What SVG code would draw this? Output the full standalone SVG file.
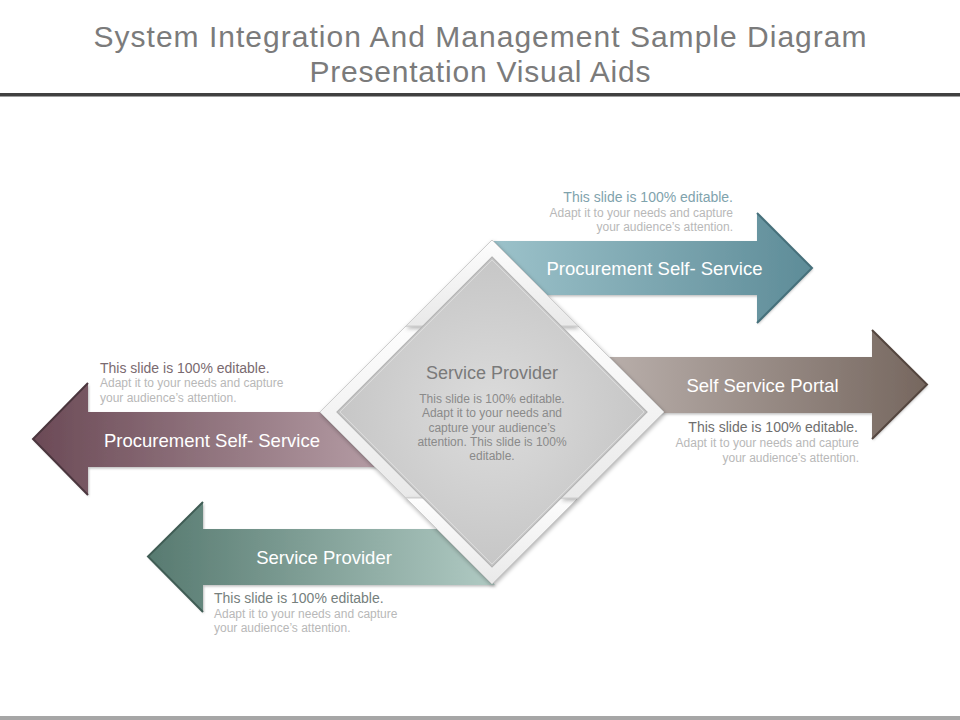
<svg xmlns="http://www.w3.org/2000/svg" width="960" height="720" viewBox="0 0 960 720">
  <defs>
    <linearGradient id="gTeal" x1="0" y1="0" x2="1" y2="0">
      <stop offset="0" stop-color="#9cc2ca"/>
      <stop offset="1" stop-color="#5e8c98"/>
    </linearGradient>
    <linearGradient id="gBrown" x1="0" y1="0" x2="1" y2="0">
      <stop offset="0" stop-color="#b9afab"/>
      <stop offset="1" stop-color="#76675f"/>
    </linearGradient>
    <linearGradient id="gMauve" x1="0" y1="0" x2="1" y2="0">
      <stop offset="0" stop-color="#6b4a56"/>
      <stop offset="1" stop-color="#bba3ab"/>
    </linearGradient>
    <linearGradient id="gGreen" x1="0" y1="0" x2="1" y2="0">
      <stop offset="0" stop-color="#577a70"/>
      <stop offset="1" stop-color="#b0cac3"/>
    </linearGradient>
    <linearGradient id="gFrame" x1="0" y1="0" x2="0" y2="1">
      <stop offset="0" stop-color="#fdfdfd"/>
      <stop offset="1" stop-color="#e9e9e9"/>
    </linearGradient>
    <radialGradient id="gCore" cx="0.5" cy="0.5" r="0.6">
      <stop offset="0" stop-color="#dcdcdc"/>
      <stop offset="1" stop-color="#c2c2c2"/>
    </radialGradient>
    <filter id="shadow" x="-20%" y="-20%" width="140%" height="140%">
      <feDropShadow dx="1" dy="2" stdDeviation="2" flood-color="#000" flood-opacity="0.3"/>
    </filter>
    <filter id="ashadow" x="-10%" y="-20%" width="120%" height="140%">
      <feDropShadow dx="1" dy="1.5" stdDeviation="1.2" flood-color="#000" flood-opacity="0.25"/>
    </filter>
  </defs>
  <style>
    .title { font-family: "Liberation Sans", Arial, sans-serif; font-size: 30px; fill: #7b7b7b; text-anchor: middle; }
    .lbl { font-family: "Liberation Sans", Arial, sans-serif; font-size: 18.5px; fill: #ffffff; text-anchor: middle; }
    .d1 { font-family: "Liberation Sans", Arial, sans-serif; font-size: 14px; }
    .d2 { font-family: "Liberation Sans", Arial, sans-serif; font-size: 12px; fill: #b8b8b8; }
    .bevel { fill: none; stroke-width: 2; stroke-linejoin: miter; }
    .frame { fill: url(#gFrame); stroke: #cdcdcd; stroke-width: 1; filter: url(#shadow); }
    .ctitle { font-family: "Liberation Sans", Arial, sans-serif; font-size: 18px; fill: #7a7a7a; text-anchor: middle; }
    .cbody { font-family: "Liberation Sans", Arial, sans-serif; font-size: 12px; fill: #8a8a8a; text-anchor: middle; }
  </style>

  <rect x="0" y="0" width="960" height="720" fill="#ffffff"/>

  <g id="title">
    <text class="title" x="480" y="47" textLength="773" lengthAdjust="spacing">System Integration And Management Sample Diagram</text>
    <text class="title" x="480" y="82" textLength="341" lengthAdjust="spacing">Presentation Visual Aids</text>
    <rect x="0" y="93" width="960" height="3.5" fill="#404040"/>
  </g>

  <g id="footer-line">
    <rect x="0" y="716" width="960" height="4" fill="#a6a6a6"/>
  </g>

  <g id="arrow-top-right">
    <polygon points="492,241 757,241 757,213 812,268 757,323 757,295 545,295" fill="url(#gTeal)" filter="url(#ashadow)"/>
    <polyline class="bevel" points="757,213 812,268 757,323" stroke="#46707b"/>
    <text class="lbl" x="654.5" y="275">Procurement Self- Service</text>
    <text class="d1" x="733" y="201.7" text-anchor="end" fill="#7fa3ad">This slide is 100% editable.</text>
    <text class="d2" x="733" y="216.7" text-anchor="end">Adapt it to your needs and capture</text>
    <text class="d2" x="733" y="230.7" text-anchor="end">your audience’s attention.</text>
  </g>

  <g id="arrow-right">
    <polygon points="605,357 872,357 872,330 927,384.5 872,439 872,413 655,413" fill="url(#gBrown)" filter="url(#ashadow)"/>
    <polyline class="bevel" points="872,330 927,384.5 872,439" stroke="#54463f"/>
    <text class="lbl" x="762.5" y="391.7">Self Service Portal</text>
    <text class="d1" x="858" y="432" text-anchor="end" fill="#6e6e6e">This slide is 100% editable.</text>
    <text class="d2" x="859" y="446.7" text-anchor="end">Adapt it to your needs and capture</text>
    <text class="d2" x="859" y="461.7" text-anchor="end">your audience’s attention.</text>
  </g>

  <g id="arrow-left">
    <polygon points="370,412 88,412 88,383 33,439 88,495 88,467 410,467" fill="url(#gMauve)" filter="url(#ashadow)"/>
    <polyline class="bevel" points="88,383 33,439 88,495" stroke="#4b363e"/>
    <text class="lbl" x="212" y="446.7">Procurement Self- Service</text>
    <text class="d1" x="100" y="373.3" fill="#7a6a70">This slide is 100% editable.</text>
    <text class="d2" x="100" y="387.3">Adapt it to your needs and capture</text>
    <text class="d2" x="100" y="401.7">your audience’s attention.</text>
  </g>

  <g id="arrow-bottom">
    <polygon points="445,529 203,529 203,502 148,556.5 203,612 203,585 495,585" fill="url(#gGreen)" filter="url(#ashadow)"/>
    <polyline class="bevel" points="203,502 148,556.5 203,612" stroke="#405d55"/>
    <text class="lbl" x="324" y="564">Service Provider</text>
    <text class="d1" x="214" y="603.3" fill="#76807d">This slide is 100% editable.</text>
    <text class="d2" x="214" y="617.7">Adapt it to your needs and capture</text>
    <text class="d2" x="214" y="631.7">your audience’s attention.</text>
  </g>

  <g id="center-diamond">
    <polygon class="frame" points="406,498 320,412 406,326 423,326 337,412 423,498"/>
    <polygon class="frame" points="578,498 492,584 406,498 423,498 492,567 561,498"/>
    <polygon class="frame" points="578,326 664,412 578,498 561,498 647,412 561,326"/>
    <polygon class="frame" points="406,326 492,240 578,326 561,326 492,257 423,326"/>
    <polygon points="492,257 647,412 492,567 337,412" fill="url(#gCore)" stroke="#b4b4b4" stroke-width="1.2"/>
    <polygon points="492,260 644,412 492,564 340,412" fill="none" stroke="#e2e2e2" stroke-width="1" opacity="0.7"/>
    <text class="ctitle" x="492" y="379">Service Provider</text>
    <text class="cbody" x="492" y="403.3">This slide is 100% editable.</text>
    <text class="cbody" x="492" y="417.3">Adapt it to your needs and</text>
    <text class="cbody" x="492" y="431.7">capture your audience’s</text>
    <text class="cbody" x="492" y="446">attention. This slide is 100%</text>
    <text class="cbody" x="492" y="460">editable.</text>
  </g>
</svg>
